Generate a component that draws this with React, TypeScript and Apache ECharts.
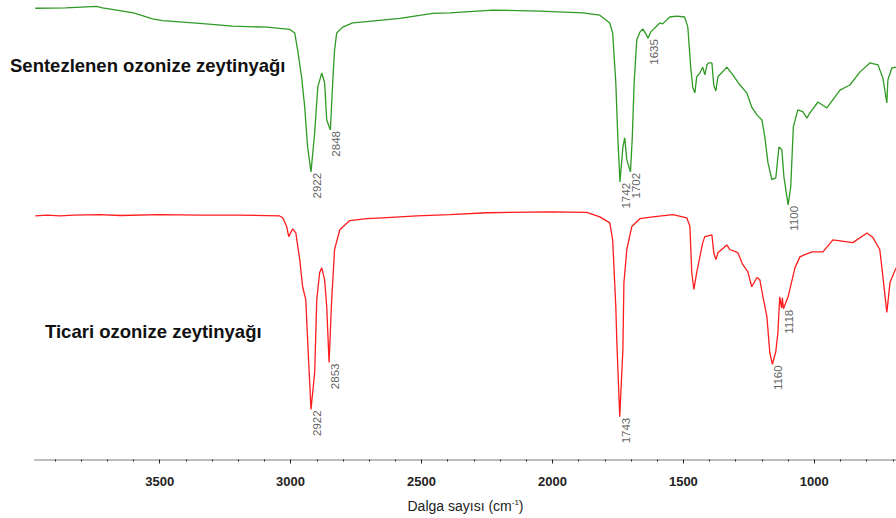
import React, { useEffect, useRef } from "react";
import * as echarts from "echarts";

// FTIR spectra (wavenumber cm-1, offset transmittance in arbitrary units)
const synthesizedSpectrum: [number, number][] = [
  [3975, 98.2], [3860, 98.3], [3741, 98.6], [3718, 98.3], [3600, 97.2],
  [3527, 95.9], [3489, 95.5], [3347, 94.9], [3221, 94.3], [3091, 94.1],
  [3003, 93.6], [2984, 92.8], [2973, 89.1], [2958, 83.3], [2946, 76.7],
  [2935, 68.0], [2922, 62.6], [2908, 71.1], [2896, 81.1], [2881, 84.1],
  [2870, 82.0], [2862, 73.9], [2848, 71.7], [2838, 83.3], [2832, 89.1],
  [2824, 92.8], [2801, 94.1], [2763, 95.0], [2709, 95.3], [2583, 96.0],
  [2457, 97.1], [2392, 97.2], [2228, 97.8], [2050, 97.6], [1884, 97.2],
  [1819, 96.7], [1781, 95.0], [1770, 92.8], [1758, 82.0], [1750, 69.6],
  [1742, 60.4], [1731, 68.0], [1724, 70.0], [1716, 65.2], [1702, 62.6],
  [1695, 70.2], [1688, 82.0], [1678, 91.3], [1666, 93.0], [1655, 93.7],
  [1645, 92.8], [1635, 91.7], [1625, 93.0], [1590, 95.0], [1579, 94.8],
  [1552, 96.3], [1525, 96.5], [1495, 96.3], [1483, 94.1], [1472, 85.4],
  [1464, 80.9], [1456, 79.8], [1449, 83.3], [1437, 84.1], [1426, 85.4],
  [1418, 83.7], [1410, 85.9], [1403, 86.3], [1391, 86.3], [1384, 81.5],
  [1376, 80.2], [1368, 83.3], [1334, 85.4], [1311, 83.7], [1284, 81.5],
  [1258, 79.8], [1239, 76.7], [1219, 75.0], [1200, 73.9], [1189, 70.2],
  [1177, 64.6], [1162, 60.9], [1147, 61.3], [1135, 68.0], [1124, 67.4],
  [1116, 61.5], [1100, 55.4], [1090, 59.3], [1080, 72.4], [1063, 76.1],
  [1044, 75.7], [1028, 74.3], [1017, 75.4], [986, 77.8], [952, 76.5],
  [902, 80.4], [864, 81.5], [826, 84.3], [788, 86.3], [757, 85.9],
  [738, 83.0], [723, 77.6], [719, 82.6], [704, 85.2], [688, 85.4],
];

const commercialSpectrum: [number, number][] = [
  [3975, 53.0], [3930, 53.2], [3880, 53.0], [3830, 53.2], [3729, 53.3],
  [3650, 53.1], [3500, 53.3], [3347, 53.2], [3200, 53.2], [3042, 53.0],
  [3030, 52.6], [3015, 50.7], [3007, 48.5], [2992, 50.2], [2980, 49.3],
  [2965, 43.5], [2954, 37.6], [2942, 34.8], [2935, 26.1], [2922, 10.9],
  [2908, 18.9], [2900, 34.8], [2889, 40.7], [2881, 41.7], [2870, 39.1],
  [2862, 33.3], [2853, 21.1], [2843, 34.8], [2832, 45.7], [2812, 50.0],
  [2774, 52.0], [2709, 52.4], [2648, 52.6], [2518, 53.0], [2392, 53.3],
  [2251, 53.7], [2000, 53.9], [1869, 53.8], [1819, 52.8], [1781, 51.5],
  [1770, 47.8], [1758, 33.3], [1754, 25.4], [1743, 9.3], [1731, 23.9],
  [1727, 38.5], [1716, 45.7], [1697, 50.7], [1666, 52.4], [1617, 52.8],
  [1540, 53.3], [1487, 52.6], [1475, 50.7], [1468, 40.7], [1460, 37.0],
  [1449, 40.7], [1437, 44.1], [1426, 47.2], [1418, 48.5], [1391, 48.9],
  [1384, 45.0], [1376, 43.5], [1368, 45.0], [1334, 46.7], [1323, 45.7],
  [1292, 45.0], [1273, 42.4], [1254, 40.9], [1239, 37.6], [1219, 39.6],
  [1208, 39.1], [1196, 35.4], [1181, 31.1], [1170, 23.3], [1160, 20.7],
  [1147, 23.5], [1139, 27.6], [1132, 35.4], [1125, 33.0], [1122, 35.2],
  [1118, 32.8], [1100, 35.4], [1074, 41.7], [1055, 44.1], [1036, 44.6],
  [1009, 45.2], [967, 45.2], [929, 47.8], [853, 47.2], [799, 49.3],
  [776, 48.3], [750, 45.7], [738, 39.8], [723, 32.0], [711, 38.5],
  [688, 41.7],
];

// Labelled absorption bands: [wavenumber, transmittance at the band minimum]
const synthesizedPeaks: [number, number][] = [
  [2922, 62.6], [2848, 71.7], [1742, 60.4], [1702, 62.6], [1635, 91.7], [1100, 55.4],
];
const commercialPeaks: [number, number][] = [
  [2922, 10.9], [2853, 21.1], [1743, 9.3], [1160, 20.7], [1118, 32.8],
];

const seriesNames = ["Sentezlenen ozonize zeytinyağı", "Ticari ozonize zeytinyağı"];
const majorTicks = [1000, 1500, 2000, 2500, 3000, 3500];
const minorTicks = [
  700, 800, 900, 1100, 1200, 1300, 1400, 1600, 1700, 1800, 1900, 2100, 2200, 2300, 2400,
  2600, 2700, 2800, 2900, 3100, 3200, 3300, 3400, 3600, 3700, 3800, 3900,
];

const FONT = "'Liberation Sans', Arial, sans-serif";
const GREEN = "#2f9a24";
const RED = "#ff1c1c";
const X_MIN = 688;
const X_MAX = 3976;

function peakSeries(data: [number, number][]) {
  return {
    type: "scatter",
    data,
    symbolSize: 0,
    silent: true,
    z: 5,
    label: {
      show: true,
      position: "bottom",
      distance: 1,
      rotate: 90,
      align: "right",
      verticalAlign: "top",
      fontSize: 11.5,
      fontFamily: FONT,
      color: "#333",
      formatter: (p: any) => String(p.value[0]),
    },
  };
}

export default function App() {
  const ref = useRef<HTMLDivElement>(null);

  useEffect(() => {
    if (!ref.current) return;
    const chart = echarts.init(ref.current, null, { renderer: "svg" });
    const baseX = {
      type: "value",
      inverse: true,
      min: X_MIN,
      max: X_MAX,
      splitLine: { show: false },
    };
    chart.setOption({
      animation: false,
      backgroundColor: "#ffffff",
      grid: { left: 35, right: 0, top: 0, bottom: 58 },
      xAxis: [
        {
          ...baseX,
          position: "bottom",
          axisLine: { show: true, lineStyle: { color: "#bdbdbd", width: 2 } },
          axisTick: {
            show: true,
            customValues: majorTicks,
            length: 4,
            lineStyle: { color: "#222", width: 1 },
          },
          axisLabel: {
            show: true,
            customValues: majorTicks,
            formatter: (v: number) => String(v),
            margin: 15,
            fontSize: 13,
            fontWeight: "bold",
            fontFamily: FONT,
            color: "#222",
          },
          name: "Dalga sayısı (cm{sup|-1})",
          nameLocation: "middle",
          nameGap: 39,
          nameTextStyle: {
            fontSize: 14,
            fontFamily: FONT,
            color: "#222",
            rich: {
              sup: { fontSize: 8, fontFamily: FONT, color: "#222", padding: [0, 0, 7, 0] },
            },
          },
        },
        {
          ...baseX,
          position: "bottom",
          axisLine: { show: false },
          axisTick: {
            show: true,
            customValues: minorTicks,
            length: 2,
            lineStyle: { color: "#222", width: 1 },
          },
          axisLabel: { show: false },
        },
      ],
      yAxis: { type: "value", min: 0, max: 100, show: false },
      graphic: [
        {
          type: "text",
          x: 10,
          y: 65,
          style: {
            text: seriesNames[0],
            fill: "#111",
            fontSize: 18.5,
            fontWeight: "bold",
            fontFamily: FONT,
            verticalAlign: "middle",
          },
        },
        {
          type: "text",
          x: 45,
          y: 331,
          style: {
            text: seriesNames[1],
            fill: "#111",
            fontSize: 18.5,
            fontWeight: "bold",
            fontFamily: FONT,
            verticalAlign: "middle",
          },
        },
      ],
      series: [
        {
          name: seriesNames[0],
          type: "line",
          data: synthesizedSpectrum,
          showSymbol: false,
          lineStyle: { color: GREEN, width: 1.3 },
          silent: true,
        },
        {
          name: seriesNames[1],
          type: "line",
          data: commercialSpectrum,
          showSymbol: false,
          lineStyle: { color: RED, width: 1.3 },
          silent: true,
        },
        peakSeries(synthesizedPeaks),
        peakSeries(commercialPeaks),
      ],
    });
    return () => chart.dispose();
  }, []);

  return (
    <div
      ref={ref}
      style={{ position: "fixed", left: 0, top: 0, width: 896, height: 518, background: "#fff" }}
    />
  );
}
